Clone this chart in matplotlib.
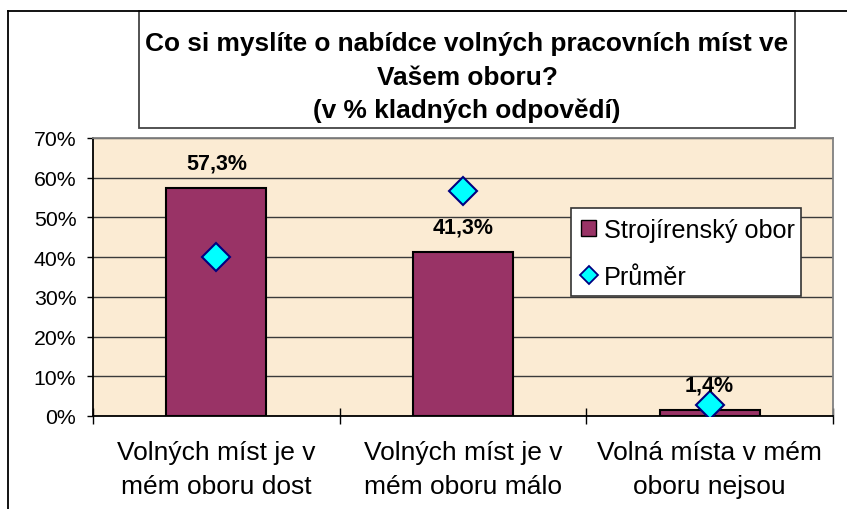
import matplotlib
matplotlib.use("Agg")
import matplotlib.pyplot as plt
from matplotlib.patches import Rectangle, Patch
from matplotlib.lines import Line2D
from matplotlib.ticker import FuncFormatter

plt.rcParams['font.family'] = ['Liberation Sans', 'DejaVu Sans']

categories = ["Volných míst je v\nmém oboru dost",
              "Volných míst je v\nmém oboru málo",
              "Volná místa v mém\noboru nejsou"]
obor_values = [57.3, 41.3, 1.4]
prumer_values = [40.0, 56.7, 2.8]
bar_labels = ["57,3%", "41,3%", "1,4%"]
series_names = ["Strojírenský obor", "Průměr"]
title_lines = ["Co si myslíte o nabídce volných pracovních míst ve",
               "Vašem oboru?",
               "(v % kladných odpovědí)"]

W, H = 847, 510
fig = plt.figure(figsize=(W / 100, H / 100), dpi=100)

def fx(px):
    return px / W

def fy(py):
    return 1 - py / H

# outer chart border (left and top)
fig.add_artist(Line2D([fx(8), fx(8)], [fy(12), 0], color='black', lw=1.3))
fig.add_artist(Line2D([fx(8), 1], [fy(12), fy(12)], color='black', lw=1.3))

# plot area
left, right, top, bottom = 93, 833, 139, 417
ax = fig.add_axes([fx(left), fy(bottom), fx(right - left), (bottom - top) / H])
ax.set_facecolor('#FBEBD3')

x = list(range(len(categories)))
ax.bar(x, obor_values, width=0.405, color='#993366', edgecolor='black',
       linewidth=1.5, zorder=3)
ax.plot(x, prumer_values, linestyle='none', marker='D', markersize=14.5,
        markerfacecolor='#00FFFF', markeredgecolor='#000080',
        markeredgewidth=1.5, zorder=4)

for xi, v, lab in zip(x, obor_values, bar_labels):
    ax.annotate(lab, (xi, v), xytext=(0, 18), textcoords='offset points',
                ha='center', va='center', fontsize=15.5, fontweight='bold',
                zorder=5)

ax.set_xlim(-0.5, len(categories) - 0.5)
ax.set_ylim(0, 70)
ax.set_yticks(range(0, 71, 10))
ax.yaxis.set_major_formatter(FuncFormatter(lambda v, p: f"{int(v)}%"))
ax.tick_params(axis='y', direction='out', length=4.5, width=1, pad=7.5,
               labelsize=15.3, colors='black')
ax.grid(axis='y', color='#3a3a3a', linewidth=1, zorder=1)
ax.set_axisbelow(True)

ax.set_xticks([i - 0.5 for i in range(len(categories) + 1)])
ax.set_xticklabels([])
ax.set_xticks(x, minor=True)
ax.set_xticklabels(categories, minor=True, fontsize=19, linespacing=1.55)
ax.tick_params(axis='x', which='major', direction='inout', length=11, width=1)
ax.tick_params(axis='x', which='minor', length=0, pad=17)

for s in ['left', 'bottom']:
    ax.spines[s].set_color('black')
    ax.spines[s].set_linewidth(1.3)
for s in ['top', 'right']:
    ax.spines[s].set_color('#808080')
    ax.spines[s].set_linewidth(1.3)

# legend (frame drawn separately)
fig.add_artist(Rectangle((fx(571), fy(297)), fx(801 - 571), (297 - 209) / H,
                         facecolor='white', edgecolor='#333333', lw=1.2,
                         transform=fig.transFigure, zorder=4))
handles = [Patch(facecolor='#993366', edgecolor='black', linewidth=1),
           Line2D([], [], linestyle='none', marker='D', markersize=9.5,
                  markerfacecolor='#00FFFF', markeredgecolor='#000080',
                  markeredgewidth=1.3)]
leg = fig.legend(handles, series_names, loc='upper left',
                 bbox_to_anchor=(fx(571), fy(209)), borderaxespad=0,
                 fontsize=18.2, frameon=False,
                 handlelength=0.6, handleheight=0.6, handletextpad=0.3,
                 borderpad=0.4, labelspacing=0.9)
leg.set_zorder(5)

# title box
fig.add_artist(Rectangle((fx(139), fy(129)), fx(795 - 139), (129 - 12) / H,
                         facecolor='white', edgecolor='#444444', lw=1.3,
                         transform=fig.transFigure))
cx = fx((139 + 795) / 2)
for ty, line in zip([44, 78, 111], title_lines):
    fig.text(cx, fy(ty), line, ha='center', va='center', fontsize=18.9,
             fontweight='bold')

fig.savefig('out.png', dpi=100)
